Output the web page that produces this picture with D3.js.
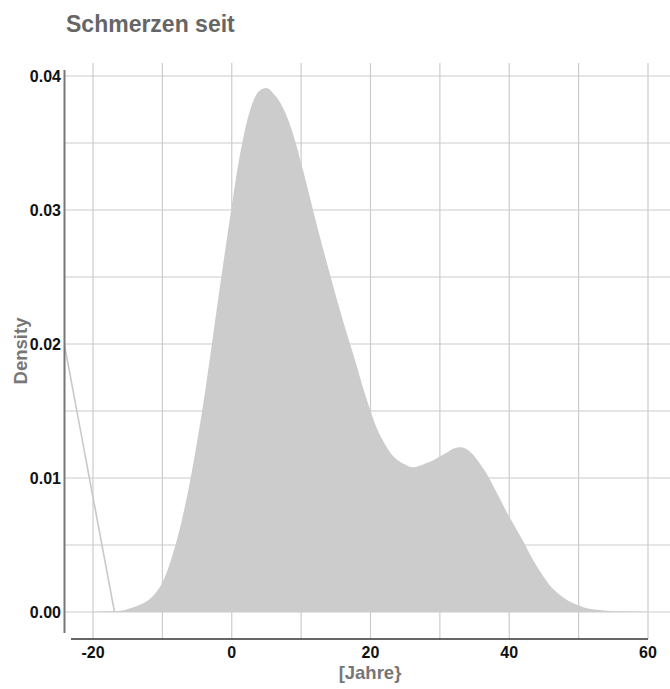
<!DOCTYPE html>
<html>
<head>
<meta charset="utf-8">
<script src="https://cdn.jsdelivr.net/npm/d3@7"></script>
<style>
  html, body { margin: 0; padding: 0; background: #fff; }
  svg { display: block; font-family: "Liberation Sans", Arial, Helvetica, sans-serif; }
</style>
</head>
<body>
<svg id="chart" width="670" height="689"></svg>
<script>
// Kernel density estimate of "Schmerzen seit" (years)
const years = [-20, -18, -16, -14.5, -13, -12, -11, -10, -9, -8, -7, -6, -5, -4, -3, -2, -1,
  0, 1, 2, 3, 4, 5, 6, 7, 8, 9, 10, 11, 12, 13, 14, 15, 16, 17, 18, 19, 20,
  21, 22, 23, 24, 25, 26, 27, 28, 29, 30, 31, 32, 33, 34, 35, 36, 37, 38, 39, 40,
  41, 42, 43, 44, 45, 46, 47, 48, 49, 50, 51, 52, 54, 56, 60];
const density = [0.00002, 0.00005, 0.0001, 0.0003, 0.0006, 0.0009, 0.0014, 0.0022, 0.0035, 0.0052, 0.0073, 0.0098, 0.0127, 0.0159, 0.0195, 0.0232, 0.0268,
  0.0303, 0.0336, 0.0362, 0.0380, 0.0389, 0.0391, 0.0387, 0.0380, 0.0369, 0.0354, 0.0335, 0.0315, 0.0294, 0.0274, 0.0255, 0.0236, 0.0218, 0.0201, 0.0184, 0.0166, 0.0150,
  0.0136, 0.0126, 0.0118, 0.0113, 0.0110, 0.0108, 0.0109, 0.0111, 0.0113, 0.0116, 0.0119, 0.0122, 0.0123, 0.0121, 0.0116, 0.0109, 0.0101, 0.0091, 0.0081, 0.0071,
  0.0062, 0.0053, 0.0043, 0.0034, 0.0026, 0.0019, 0.0014, 0.0010, 0.0007, 0.0005, 0.0003, 0.0002, 0.0001, 0.00005, 0.00002];

// Stray connector segment on the left of the density
const strayYears = [-16.9, -24.1];
const strayDensity = [0, 0.0199];

const xTicks = [-20, 0, 20, 40, 60];
const yTicks = [0, 0.01, 0.02, 0.03, 0.04];
const xGrid = d3.range(-20, 61, 10);
const yGrid = d3.range(0, 0.0401, 0.005);

const svg = d3.select("#chart");

const x = d3.scaleLinear().domain([-20, 60]).range([93, 648]);
const y = d3.scaleLinear().domain([0, 0.04]).range([612, 76]);

const plotLeft = 65, plotRight = 670, plotTop = 63, plotBottom = 639;

svg.append("defs").append("clipPath").attr("id", "plotclip")
  .append("rect").attr("x", plotLeft).attr("y", plotTop)
  .attr("width", plotRight - plotLeft).attr("height", plotBottom - plotTop);

// grid
const grid = svg.append("g").attr("stroke", "#cccccc").attr("stroke-width", 1.2);
grid.selectAll("line.v").data(xGrid).join("line")
  .attr("class", "v")
  .attr("x1", d => x(d)).attr("x2", d => x(d))
  .attr("y1", plotTop).attr("y2", plotBottom);
grid.selectAll("line.h").data(yGrid).join("line")
  .attr("class", "h")
  .attr("x1", plotLeft).attr("x2", plotRight)
  .attr("y1", d => y(d)).attr("y2", d => y(d));

const pts = years.map((v, i) => [v, density[i]]);
const plot = svg.append("g").attr("clip-path", "url(#plotclip)");

plot.append("path")
  .datum(pts)
  .attr("fill", "#cccccc")
  .attr("d", d3.area().curve(d3.curveMonotoneX)
    .x(d => x(d[0])).y0(y(0)).y1(d => y(d[1])));

plot.append("path")
  .datum(strayYears.map((v, i) => [v, strayDensity[i]]))
  .attr("fill", "none")
  .attr("stroke", "#c8c8c8")
  .attr("stroke-width", 1.6)
  .attr("d", d3.line().x(d => x(d[0])).y(d => y(d[1])));

// axis lines
svg.append("line")
  .attr("x1", 64.5).attr("x2", 64.5).attr("y1", 70).attr("y2", 633)
  .attr("stroke", "#777").attr("stroke-width", 2);
svg.append("line")
  .attr("x1", 71).attr("x2", 648).attr("y1", 639).attr("y2", 639)
  .attr("stroke", "#333").attr("stroke-width", 1.5);

// tick labels
svg.append("g").selectAll("text").data(yTicks).join("text")
  .attr("x", 61).attr("y", d => y(d)).attr("dy", "0.36em")
  .attr("text-anchor", "end")
  .attr("font-size", 16).attr("font-weight", "bold").attr("fill", "#111")
  .text(d => d3.format(".2f")(d));

svg.append("g").selectAll("text").data(xTicks).join("text")
  .attr("x", d => x(d)).attr("y", 658)
  .attr("text-anchor", "middle")
  .attr("font-size", 16).attr("font-weight", "bold").attr("fill", "#111")
  .text(d => d3.format("d")(d).replace("\u2212", "-"));

// titles
svg.append("text")
  .attr("x", 66).attr("y", 32)
  .attr("font-size", 23).attr("font-weight", "bold").attr("fill", "#666")
  .text("Schmerzen seit");

svg.append("text")
  .attr("transform", "translate(27,351) rotate(-90)")
  .attr("text-anchor", "middle")
  .attr("font-size", 18.5).attr("font-weight", "bold").attr("fill", "#777")
  .text("Density");

svg.append("text")
  .attr("x", 370).attr("y", 679)
  .attr("text-anchor", "middle")
  .attr("font-size", 18.5).attr("font-weight", "bold").attr("fill", "#777")
  .text("[Jahre}");
</script>
</body>
</html>
